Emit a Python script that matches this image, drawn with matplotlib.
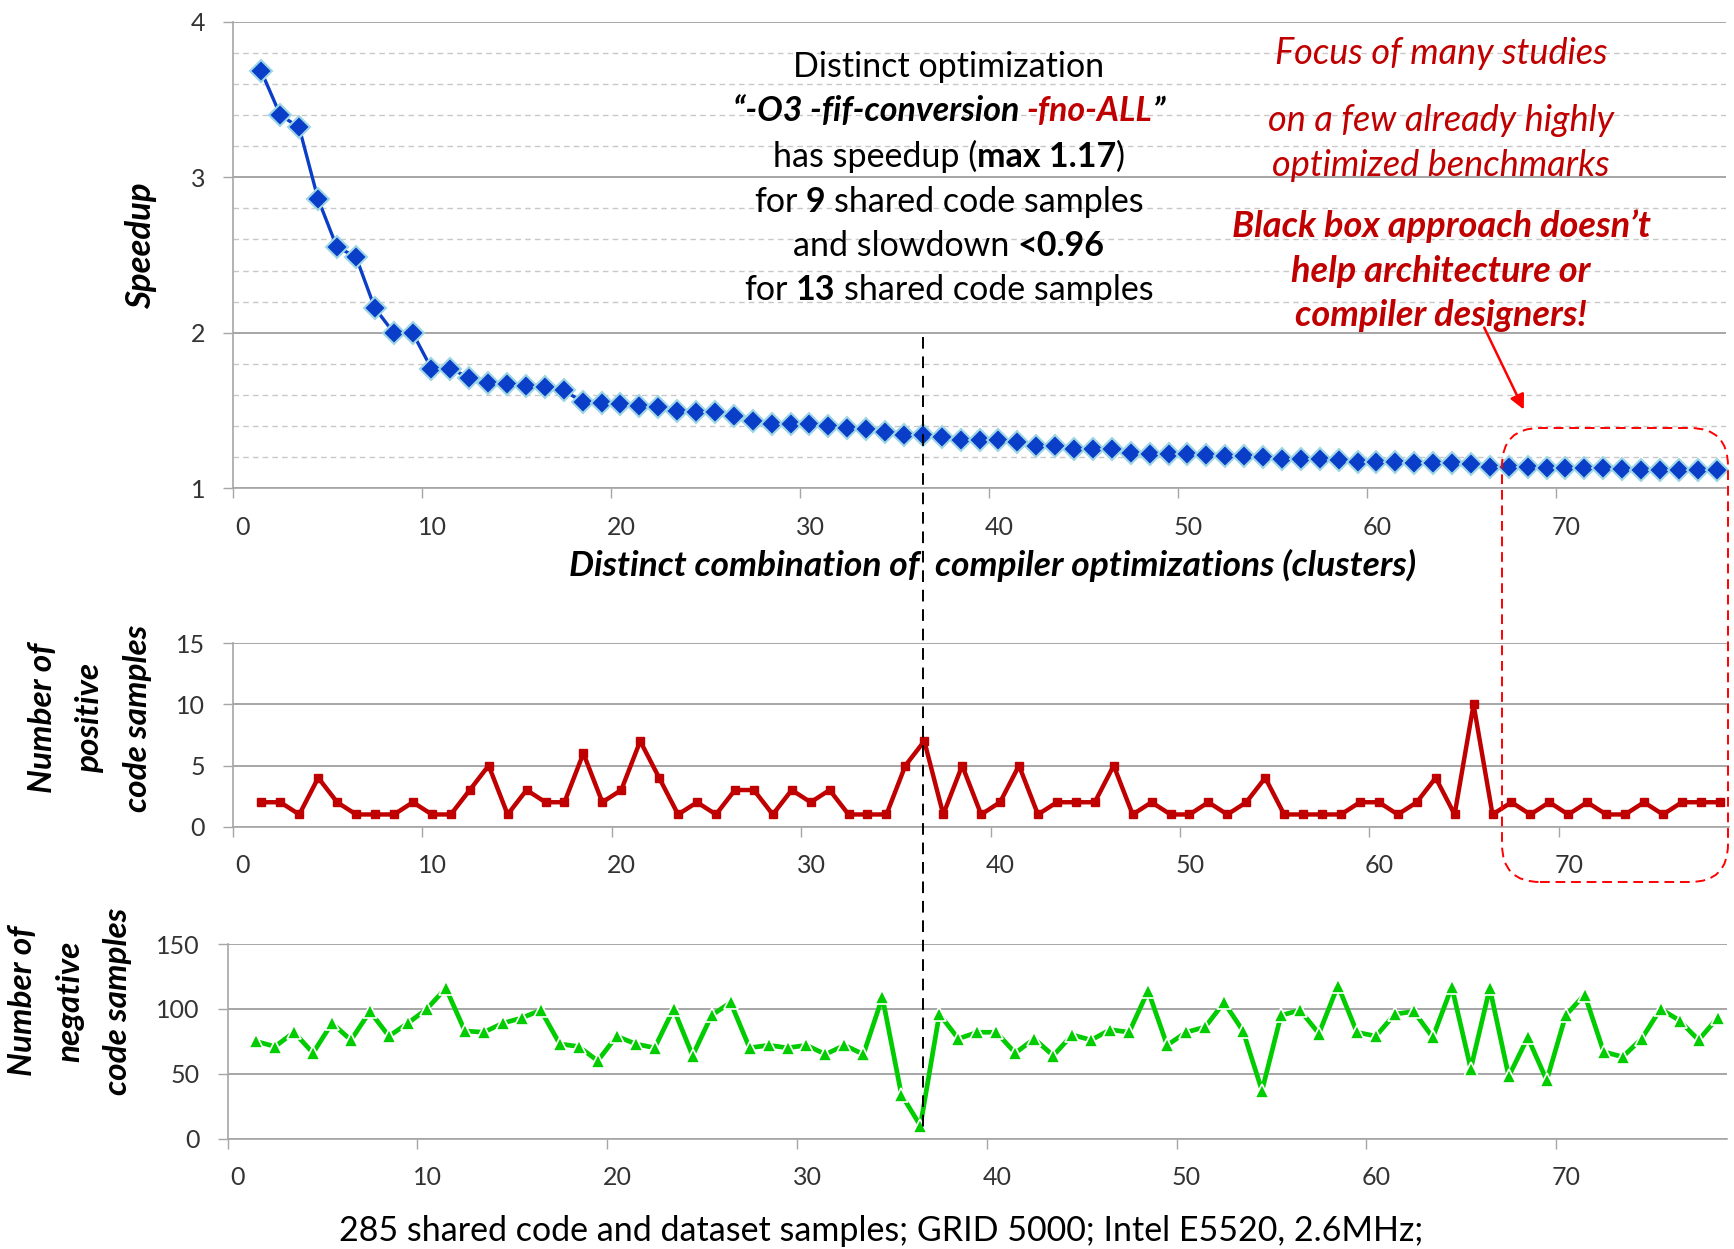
import numpy as np
import matplotlib
matplotlib.use("Agg")
import matplotlib.pyplot as plt
from matplotlib.lines import Line2D
from matplotlib.patches import FancyBboxPatch, FancyArrowPatch
from matplotlib.transforms import (blended_transform_factory, IdentityTransform,
                                   ScaledTranslation)

FONT = ["Lato", "DejaVu Sans"]
plt.rcParams["font.family"] = FONT

# data, one value per cluster (1..78)
speedup = [3.68, 3.40, 3.32, 2.86, 2.55, 2.49, 2.16, 2.00, 2.00, 1.77,
           1.77, 1.71, 1.675, 1.67, 1.655, 1.65, 1.63, 1.555, 1.55, 1.545,
           1.53, 1.525, 1.495, 1.49, 1.49, 1.465, 1.435, 1.415, 1.415, 1.415,
           1.40, 1.39, 1.38, 1.36, 1.34, 1.34, 1.33, 1.31, 1.31, 1.31,
           1.30, 1.275, 1.27, 1.255, 1.25, 1.25, 1.225, 1.22, 1.22, 1.22,
           1.215, 1.205, 1.205, 1.20, 1.19, 1.19, 1.19, 1.18, 1.17, 1.17,
           1.17, 1.165, 1.16, 1.16, 1.155, 1.14, 1.14, 1.135, 1.13, 1.13,
           1.13, 1.13, 1.125, 1.12, 1.12, 1.115, 1.115, 1.115]

positive = [2, 2, 1, 4, 2, 1, 1, 1, 2, 1,
            1, 3, 5, 1, 3, 2, 2, 6, 2, 3,
            7, 4, 1, 2, 1, 3, 3, 1, 3, 2,
            3, 1, 1, 1, 5, 7, 1, 5, 1, 2,
            5, 1, 2, 2, 2, 5, 1, 2, 1, 1,
            2, 1, 2, 4, 1, 1, 1, 1, 2, 2,
            1, 2, 4, 1, 10, 1, 2, 1, 2, 1,
            2, 1, 1, 2, 1, 2, 2, 2]

negative = [75, 71, 82, 66, 89, 76, 98, 79, 89, 100,
            116, 83, 82, 89, 93, 99, 73, 71, 60, 79,
            73, 70, 100, 64, 95, 105, 70, 72, 70, 72,
            65, 72, 65, 109, 34, 10, 96, 77, 82, 82,
            66, 77, 64, 80, 76, 84, 82, 114, 72, 82,
            86, 105, 83, 37, 95, 99, 81, 118, 82, 79,
            96, 98, 78, 117, 54, 116, 48, 78, 45, 95,
            111, 67, 63, 77, 100, 91, 76, 93]

clusters = np.arange(1, len(speedup) + 1)
xpos = clusters + 0.5   # excel puts the points between ticks
marked_cluster = 36

W, H = 1734, 1249
def fx(px):
    return px / W
def fy(py):
    return 1 - py / H

GRID = "#A6A6A6"
TICKC = "#333333"
DARKRED = "#C00000"

fig = plt.figure(figsize=(W / 100, H / 100), dpi=100)
shift = ScaledTranslation(10 / 100, 0, fig.dpi_scale_trans)

def style(ax, ylim, yticks):
    ax.set_xlim(0, 79)
    ax.set_ylim(*ylim)
    ax.set_xticks(range(0, 71, 10))
    ax.set_yticks(yticks)
    ax.spines["top"].set_visible(False)
    ax.spines["right"].set_visible(False)
    ax.spines["left"].set_color(GRID)
    ax.spines["bottom"].set_color(GRID)
    ax.spines["left"].set_linewidth(1.2)
    ax.spines["bottom"].set_linewidth(1.2)
    ax.grid(axis="y", color=GRID, lw=1.4)
    ax.set_axisbelow(True)
    ax.tick_params(length=7, width=1, color=GRID, labelsize=18,
                   labelcolor=TICKC, pad=13)
    # the tick numbers sit a little right of their ticks in the original
    for lab in ax.get_xticklabels():
        lab.set_transform(lab.get_transform() + shift)

# top: speedup
ax1 = fig.add_axes([fx(233), fy(488.3), 79 * 18.9 / W, (488.3 - 21.7) / H])
style(ax1, (1, 4), [1, 2, 3, 4])
ax1.set_yticks(np.arange(1.2, 4.0, 0.2), minor=True)
ax1.grid(which="minor", axis="y", color="#C8C8C8", lw=1, ls=(0, (4, 3)))
ax1.tick_params(which="minor", length=0)
ax1.plot(xpos, speedup, color="#0A3DC8", lw=2.4, marker="D", ms=11,
         mfc="#0A3DC8", mec="#9ED6E6", mew=1.5, clip_on=False, zorder=3)

# middle: positive samples
ax2 = fig.add_axes([fx(233), fy(826.7), 79 * 18.94 / W, (826.7 - 643.3) / H])
style(ax2, (0, 15), [0, 5, 10, 15])
ax2.plot(xpos, positive, color=DARKRED, lw=3.2, marker="s", ms=5.5,
         mfc=DARKRED, mec=DARKRED, clip_on=False, zorder=3)

# bottom: negative samples
ax3 = fig.add_axes([fx(227.6), fy(1138.7), 79 * 18.98 / W, (1138.7 - 944) / H])
style(ax3, (0, 150), [0, 50, 100, 150])
ax3.plot(xpos, negative, color="#00CC00", lw=3.4, marker="^", ms=10,
         mfc="#00CC00", mec="white", mew=1.2, clip_on=False, zorder=3)

# vertical dashed line through the marked cluster
tr = blended_transform_factory(ax1.transData, fig.transFigure)
fig.add_artist(Line2D([marked_cluster + 0.5] * 2, [fy(337), fy(1128)],
                      transform=tr, color="black", lw=1.4, ls=(0, (6, 4)),
                      zorder=5))

# axis titles
fig.text(fx(141), fy(246), "Speedup", rotation=90, ha="center", va="center",
         fontsize=25, fontweight="bold", fontstyle="italic")
for x, s in [(43, "Number of"), (90, "positive"), (137, "code samples")]:
    fig.text(fx(x), fy(718), s, rotation=90, ha="center", va="center",
             fontsize=24, fontweight="bold", fontstyle="italic")
for x, s in [(23, "Number of"), (70, "negative"), (117, "code samples")]:
    fig.text(fx(x), fy(1001), s, rotation=90, ha="center", va="center",
             fontsize=24, fontweight="bold", fontstyle="italic")

fig.text(fx(993), fy(576), "Distinct combination of  compiler optimizations (clusters)",
         ha="center", va="baseline", fontsize=25.5, fontweight="bold",
         fontstyle="italic")
fig.text(fx(881), fy(1241),
         "285 shared code and dataset samples; GRID 5000; Intel E5520, 2.6MHz;",
         ha="center", va="baseline", fontsize=24.5)

renderer = fig.canvas.get_renderer()

def rich_line(xc, yb, parts, size):
    # parts: (text, weight, style, color, space_before)
    items = []
    total = 0
    for txt, wt, st, col, gap in parts:
        t = fig.text(0, fy(yb), txt, fontsize=size, fontweight=wt,
                     fontstyle=st, color=col, ha="left", va="baseline")
        w = t.get_window_extent(renderer).width
        g = 0
        if gap:
            a = fig.text(0, 0, "n n", fontsize=size, fontweight=wt, fontstyle=st)
            b = fig.text(0, 0, "nn", fontsize=size, fontweight=wt, fontstyle=st)
            g = a.get_window_extent(renderer).width - b.get_window_extent(renderer).width
            a.remove()
            b.remove()
        items.append((t, w, g))
        total += w + g
    x = xc - total / 2
    for t, w, g in items:
        x += g
        t.set_x(fx(x))
        x += w

SZ = 24.5
cx = 949
rich_line(cx, 77, [("Distinct optimization", "normal", "normal", "black", False)], SZ)
rich_line(cx, 121, [("\u201c-O3 -fif-conversion", "bold", "italic", "black", False),
                    ("-fno-ALL", "bold", "italic", DARKRED, True),
                    ("\u201d", "bold", "italic", "black", False)], SZ)
rich_line(cx, 167, [("has speedup (", "normal", "normal", "black", False),
                    ("max 1.17", "bold", "normal", "black", False),
                    (")", "normal", "normal", "black", False)], SZ)
rich_line(cx, 212, [("for", "normal", "normal", "black", False),
                    ("9", "bold", "normal", "black", True),
                    ("shared code samples", "normal", "normal", "black", True)], SZ)
rich_line(cx, 255.5, [("and slowdown", "normal", "normal", "black", False),
                      ("<0.96", "bold", "normal", "black", True)], SZ)
rich_line(cx, 299.5, [("for", "normal", "normal", "black", False),
                      ("13", "bold", "normal", "black", True),
                      ("shared code samples", "normal", "normal", "black", True)], SZ)

rx = 1441
for yb, s in [(64.5, "Focus of many studies"), (131, "on a few already highly"),
              (176, "optimized benchmarks")]:
    fig.text(fx(rx), fy(yb), s, ha="center", va="baseline", fontsize=26,
             fontstyle="italic", color=DARKRED)
for yb, s in [(237, "Black box approach doesn\u2019t"), (282, "help architecture or"),
              (326, "compiler designers!")]:
    fig.text(fx(rx), fy(yb), s, ha="center", va="baseline", fontsize=26,
             fontstyle="italic", fontweight="bold", color=DARKRED)

# arrow and dashed box around the last clusters
fig.add_artist(FancyArrowPatch((fx(1483), fy(325)), (fx(1525), fy(412)),
                               transform=fig.transFigure, arrowstyle="-|>",
                               mutation_scale=22, color="#FF0000", lw=1.8))
box = FancyBboxPatch((1502, H - 882), 1728 - 1502, 882 - 428,
                     boxstyle="round,pad=0,rounding_size=38",
                     transform=IdentityTransform(), fill=False,
                     edgecolor="#FF0000", lw=1.4, ls=(0, (5, 3)), zorder=6)
fig.add_artist(box)

fig.savefig("out.png", dpi=100)
